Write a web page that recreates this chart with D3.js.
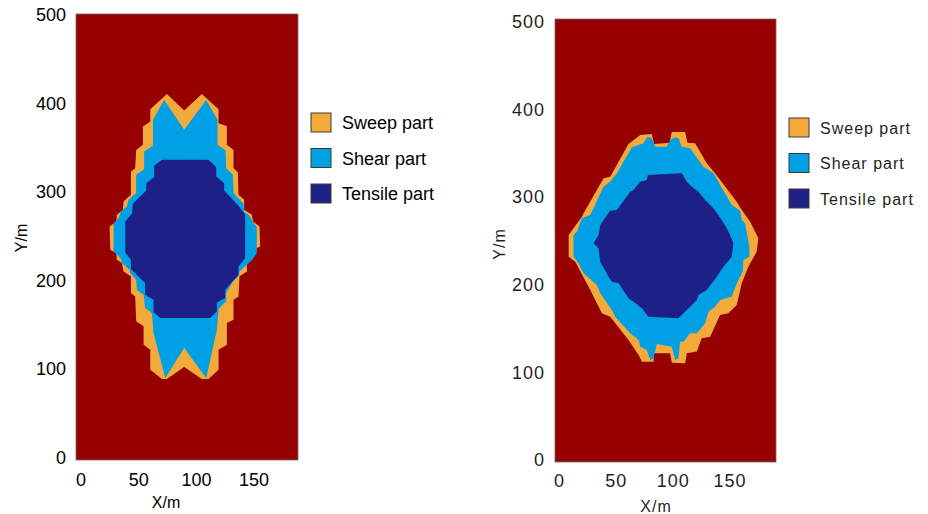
<!DOCTYPE html>
<html>
<head>
<meta charset="utf-8">
<script src="https://cdn.jsdelivr.net/npm/d3@7"></script>
<style>
  body { margin: 0; background: #fff; }
  svg { display: block; font-family: "Liberation Sans", Arial, sans-serif; }
</style>
</head>
<body>
<svg width="928" height="514"></svg>
<script>
// zone outlines, [X/m, Y/m]
const leftSweep = [
  [74.8, 410.8], [89.8, 392.0], [105.1, 410.8], [119.6, 393.5], [119.6, 377.7], [126.8, 374.7],
  [126.8, 353.3], [132.6, 347.6], [132.6, 327.0], [136.4, 322.1], [136.9, 296.9], [141.8, 291.2],
  [141.8, 280.0], [148.5, 274.3], [149.4, 266.8], [155.1, 261.2], [155.7, 238.6], [149.9, 234.8],
  [149.4, 227.3], [144.2, 221.7], [144.2, 210.4], [137.8, 204.8], [136.9, 182.2], [132.6, 178.4],
  [132.6, 155.9], [126.8, 152.1], [126.8, 127.7], [119.6, 122.0], [119.6, 99.5], [110.9, 89.0],
  [105.1, 89.0], [89.8, 102.5], [74.8, 89.0], [70.5, 89.0], [60.4, 99.5], [60.4, 122.0],
  [54.6, 127.7], [54.6, 148.4], [48.2, 154.0], [47.3, 182.2], [43.6, 186.0], [43.6, 204.8],
  [37.2, 210.4], [35.8, 219.8], [31.5, 223.6], [30.9, 231.1], [25.7, 234.8], [25.1, 261.2],
  [30.9, 266.8], [31.5, 274.3], [36.7, 280.0], [37.2, 289.4], [43.6, 296.9], [43.6, 323.2],
  [47.3, 327.0], [48.2, 347.6], [54.0, 353.3], [54.0, 374.0], [60.4, 379.6], [60.4, 393.5]
];
const leftShear = [
  [72.5, 404.0], [89.8, 370.2], [108.9, 404.0], [118.7, 381.5], [118.7, 353.3], [125.7, 346.9],
  [126.2, 327.0], [132.0, 319.4], [132.6, 298.8], [141.3, 286.7], [141.8, 278.1], [146.5, 273.2],
  [149.4, 265.7], [152.8, 260.4], [152.8, 231.1], [148.8, 223.6], [144.2, 217.9], [137.8, 210.4],
  [136.9, 204.8], [132.0, 199.1], [126.2, 186.0], [126.2, 176.6], [119.6, 167.9], [118.2, 144.6],
  [108.9, 90.1], [89.8, 123.9], [73.4, 90.1], [63.2, 140.8], [61.8, 163.4], [56.0, 169.0],
  [54.6, 184.1], [48.8, 189.7], [48.2, 201.0], [43.0, 208.5], [42.4, 212.3], [35.8, 219.8],
  [34.9, 225.4], [28.6, 232.9], [28.6, 264.9], [32.9, 270.6], [34.9, 278.1], [40.1, 283.7],
  [41.6, 291.2], [48.2, 298.8], [48.2, 319.4], [55.1, 325.8], [55.1, 345.8], [62.7, 352.2],
  [62.7, 381.5]
];
const leftTensile = [
  [70.5, 336.4], [110.9, 336.4], [117.6, 328.1], [117.6, 317.6], [124.5, 310.0], [124.5, 301.8],
  [136.9, 284.5], [142.7, 274.3], [142.7, 225.4], [136.9, 216.0], [136.9, 206.6], [125.4, 189.7],
  [125.4, 180.3], [118.2, 175.4], [118.2, 165.3], [112.4, 157.8], [69.0, 157.8], [63.2, 164.2],
  [63.2, 178.4], [56.0, 184.1], [56.0, 197.2], [43.6, 213.0], [43.6, 223.6], [38.7, 231.8],
  [38.7, 266.8], [44.7, 276.2], [45.3, 286.7], [56.9, 301.8], [56.9, 310.0], [63.8, 316.8],
  [63.8, 329.6]
];
const rightSweep = [
  [71.4, 371.0], [81.6, 372.1], [83.7, 360.7], [97.1, 362.2], [99.2, 374.4], [110.9, 374.4],
  [113.0, 362.2], [119.7, 361.5], [129.9, 338.6], [137.2, 327.2], [156.3, 294.9], [160.7, 285.4],
  [168.0, 272.1], [175.3, 253.0], [173.8, 237.8], [166.5, 220.7], [160.7, 201.7], [156.3, 176.9],
  [149.0, 167.4], [141.6, 165.5], [132.9, 140.8], [125.5, 138.9], [121.2, 123.7], [112.4, 121.7],
  [110.9, 110.3], [99.2, 111.1], [97.7, 121.7], [83.7, 121.7], [83.1, 112.2], [72.9, 112.2],
  [70.0, 119.8], [61.1, 137.0], [45.0, 163.6], [37.7, 167.4], [27.5, 194.0], [14.3, 226.4],
  [8.5, 232.1], [8.5, 256.8], [10.5, 260.6], [20.2, 277.8], [21.6, 281.6], [39.2, 321.5],
  [45.0, 323.4], [61.1, 360.7]
];
const rightShear = [
  [64.1, 356.9], [74.3, 361.5], [77.8, 369.1], [81.6, 367.2], [84.6, 357.7], [94.8, 357.7],
  [97.7, 365.3], [102.1, 368.3], [105.0, 367.2], [108.0, 357.7], [115.3, 355.8], [127.0, 334.8],
  [135.8, 327.2], [151.9, 291.1], [159.2, 284.6], [160.7, 274.0], [163.6, 270.1], [167.4, 243.5],
  [167.4, 232.1], [162.1, 228.3], [161.5, 215.0], [156.3, 201.7], [151.9, 186.4], [141.6, 182.6],
  [137.2, 175.0], [131.4, 169.3], [128.5, 156.0], [121.2, 144.6], [115.3, 144.6], [109.4, 135.1],
  [106.5, 135.1], [105.0, 116.0], [102.1, 114.1], [99.2, 129.4], [86.0, 132.4], [83.1, 116.0],
  [80.2, 114.1], [77.2, 125.6], [71.4, 129.4], [70.0, 137.0], [62.6, 144.6], [49.4, 163.6],
  [46.5, 171.2], [36.3, 190.2], [33.3, 199.8], [21.6, 213.1], [17.2, 224.5], [12.8, 232.1],
  [12.8, 256.8], [15.8, 260.6], [20.2, 275.9], [27.5, 279.7], [39.2, 312.0], [45.0, 317.7],
  [50.9, 327.2]
];
const rightTensile = [
  [78.1, 325.3], [108.0, 327.2], [112.4, 317.7], [116.8, 312.0], [122.6, 306.3], [128.5, 296.8],
  [135.8, 287.3], [143.1, 274.0], [147.5, 264.4], [150.4, 256.8], [153.3, 247.3], [151.9, 232.1],
  [144.6, 220.7], [138.7, 209.3], [129.9, 194.0], [122.6, 188.3], [121.2, 182.6], [115.3, 175.0],
  [112.4, 171.2], [105.0, 161.7], [78.7, 163.6], [72.9, 173.1], [65.5, 180.7], [61.1, 184.5],
  [52.4, 201.7], [46.5, 203.6], [43.6, 209.3], [36.3, 226.4], [34.8, 241.6], [30.4, 247.3],
  [34.8, 256.8], [36.3, 268.2], [45.0, 284.6], [50.9, 285.4], [62.6, 306.3], [65.5, 308.2],
  [71.4, 317.7], [77.2, 319.6]
];

const xTicks = [0, 50, 100, 150];
const yTicks = [0, 100, 200, 300, 400, 500];
const legendLabels = ["Sweep part", "Shear part", "Tensile part"];
const zoneColors = ["#F4A93B", "#00A1E4", "#1D2087"];
const bgColor = "#960000";

const svg = d3.select("svg");

function drawPanel(p, zones) {
  const xScale = d3.scaleLinear().domain(p.xDomain).range([p.x0, p.x1]);
  const yScale = d3.scaleLinear().domain(p.yDomain).range([p.y1, p.y0]);
  const g = svg.append("g");

  // background (intact rock)
  g.append("rect")
    .attr("x", xScale(p.xDomain[0]))
    .attr("y", yScale(p.yDomain[1]))
    .attr("width", xScale(p.xDomain[1]) - xScale(p.xDomain[0]))
    .attr("height", yScale(p.yDomain[0]) - yScale(p.yDomain[1]))
    .attr("fill", bgColor)
    .attr("stroke", "#6b6b6b")
    .attr("stroke-width", 0.8);

  const line = d3.line()
    .x(d => xScale(d[0]))
    .y(d => yScale(d[1]))
    .curve(d3.curveLinearClosed);

  g.selectAll("path.zone")
    .data(zones)
    .enter()
    .append("path")
    .attr("class", "zone")
    .attr("d", d => line(d))
    .attr("fill", (d, i) => zoneColors[i]);

  // axes, labels only
  const xAxis = g.append("g")
    .attr("transform", `translate(0,${p.y1})`)
    .call(d3.axisBottom(xScale).tickValues(xTicks).tickSize(0).tickPadding(p.xPad));
  const yAxis = g.append("g")
    .attr("transform", `translate(${p.x0},0)`)
    .call(d3.axisLeft(yScale).tickValues(yTicks).tickSize(0).tickPadding(p.yPad));
  [xAxis, yAxis].forEach(a => {
    a.select(".domain").remove();
    a.selectAll("text")
      .attr("fill", p.textColor)
      .style("font-size", "18px")
      .style("letter-spacing", p.spacing)
      .style("font-family", "'Liberation Sans', Arial, sans-serif");
  });

  g.append("text")
    .attr("x", p.xLabel[0]).attr("y", p.xLabel[1])
    .attr("text-anchor", "middle")
    .attr("dominant-baseline", "central")
    .attr("fill", p.textColor)
    .style("font-size", "16px")
    .style("letter-spacing", p.spacing)
    .text("X/m");
  g.append("text")
    .attr("transform", `translate(${p.yLabel[0]},${p.yLabel[1]}) rotate(-90)`)
    .attr("text-anchor", "middle")
    .attr("dominant-baseline", "central")
    .attr("fill", p.textColor)
    .style("font-size", "16px")
    .style("letter-spacing", p.spacing)
    .text("Y/m");

  // legend
  const leg = g.append("g").attr("transform", `translate(${p.legend[0]},${p.legend[1]})`);
  const item = leg.selectAll("g")
    .data(legendLabels)
    .enter()
    .append("g")
    .attr("transform", (d, i) => `translate(0,${i * p.legendStep})`);
  item.append("rect")
    .attr("x", 0).attr("y", -10)
    .attr("width", 20).attr("height", 19)
    .attr("fill", (d, i) => zoneColors[i])
    .attr("stroke", "#3a3a3a")
    .attr("stroke-width", 1);
  item.append("text")
    .attr("x", 31).attr("y", 0)
    .attr("dominant-baseline", "central")
    .attr("fill", p.textColor)
    .style("font-size", p.legendFont)
    .style("letter-spacing", p.spacing)
    .text(d => d);
}

drawPanel({
  xDomain: [-4, 188.5], yDomain: [-2.5, 501],
  x0: 76, x1: 298, y0: 14, y1: 460,
  xPad: 13, yPad: 10, spacing: "0px", textColor: "#000",
  xLabel: [166, 502], yLabel: [21, 238],
  legend: [311, 123], legendStep: 35.5, legendFont: "18px"
}, [leftSweep, leftShear, leftTensile]);

drawPanel({
  xDomain: [-3.5, 190.8], yDomain: [-2.3, 503.4],
  x0: 555, x1: 776, y0: 19, y1: 462,
  xPad: 12, yPad: 10, spacing: "1px", textColor: "#231f20",
  xLabel: [656, 506], yLabel: [499, 244],
  legend: [789, 128], legendStep: 35.5, legendFont: "16px"
}, [rightSweep, rightShear, rightTensile]);
</script>
</body>
</html>
